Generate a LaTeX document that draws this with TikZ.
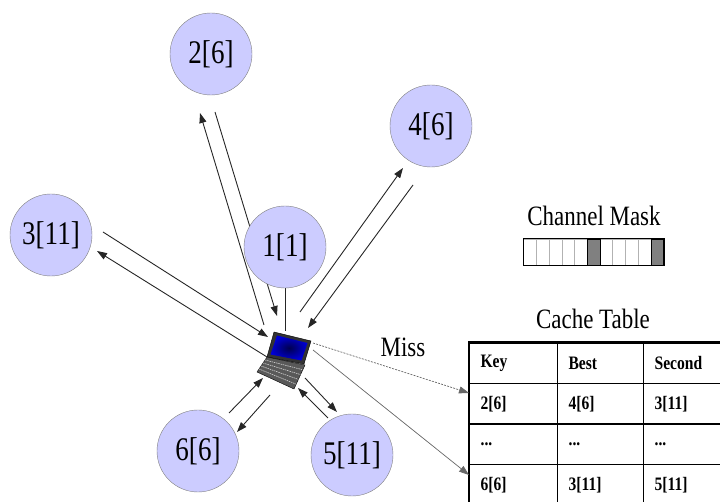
\documentclass[tikz,border=0pt]{standalone}
\usepackage{fontspec}
\setmainfont{Liberation Serif}
\newfontfamily\tallfont[FakeStretch=0.82]{Liberation Serif}
\usetikzlibrary{arrows.meta, calc, backgrounds}
\newcommand\rowdots{...}
\tikzstyle{station} = [circle, draw=gray, fill={rgb,255:red,204;green,204;blue,255}, minimum size=82pt, inner sep=0pt, font=\fontsize{33}{36}\tallfont]
\tikzstyle{caption} = [inner sep=0pt, font=\fontsize{28}{30}\tallfont]
\tikzstyle{link} = [line width=0.9pt, black!85]
\tikzstyle{arrow} = [link, -{Triangle[length=10pt,width=7pt]}]
\tikzstyle{miss} = [line width=0.7pt, gray!80!black, -{Triangle[length=10pt,width=7pt]}]
\tikzstyle{cell} = [draw, line width=1.2pt, anchor=north west, minimum height=40.5pt, inner xsep=11pt, align=left, font=\fontsize{19}{21}\tallfont\bfseries]
\begin{document}
\begin{tikzpicture}[x=1pt, y=1pt]
	\useasboundingbox (0,0) rectangle (720,502);
	\clip (0,0) rectangle (720,502);

	\node (Node1) [station] at (285,255) {1[1]};
	\node (Node2) [station] at (211,448) {2[6]};
	\node (Node3) [station] at (51,267) {3[11]};
	\node (Node4) [station] at (431,376) {4[6]};
	\node (Node5) [station] at (352,47) {5[11]};
	\node (Node6) [station] at (198,51) {6[6]};
	\node (Laptop) [minimum width=56pt, minimum height=58pt] at (285,142) {};

	% laptop: screen, display and keyboard
	\begin{scope}[shift={(Laptop.center)}]
		\draw[fill=black!80] (-11,28) -- (26,19) -- (19,-4) -- (-18,3) -- cycle;
		\shade[inner color={rgb,255:red,0;green,0;blue,80}, outer color={rgb,255:red,0;green,0;blue,215}] (-8,24.5) -- (22.5,17) -- (16.5,-0.5) -- (-14.5,5.5) -- cycle;
		\draw[fill=black!65] (-18,3) -- (20,-5) -- (9,-29) -- (-28,-12) -- cycle;
		\foreach \t in {0.2,0.4,0.6,0.8}
			\draw[gray!35, line width=0.6pt, dash pattern=on 1.5pt off 0.8pt] ($(-18,3)!\t!(-28,-12)$) -- ($(20,-5)!\t!(9,-29)$);
	\end{scope}

	\begin{scope}[on background layer]
		\draw [arrow] ($(Laptop)+(-21,35)$) -- ($(Node2)+(-11,-59)$);
		\draw [arrow] ($(Node2)+(4,-58)$) -- ($(Laptop)+(-8,44)$);
		\draw [arrow] ($(Node3)+(52,3)$) -- ($(Laptop)+(-17,23)$);
		\draw [arrow] ($(Laptop)+(-18,3)$) -- ($(Node3)+(46,-16)$);
		\draw [link] (Node1) -- (Laptop);
		\draw [arrow] ($(Laptop)+(15,48)$) -- ($(Node4)+(-28,-42)$);
		\draw [arrow] ($(Node4)+(-18,-59)$) -- ($(Laptop)+(23,32)$);
		\draw [arrow] ($(Node6)+(31,38)$) -- ($(Laptop)+(-22,-18)$);
		\draw [arrow] ($(Laptop)+(-15,-35)$) -- ($(Node6)+(39,19)$);
		\draw [arrow] ($(Laptop)+(20,-18)$) -- ($(Node5)+(-15,43)$);
		\draw [arrow] ($(Node5)+(-24,37)$) -- ($(Laptop)+(13,-28)$);
	\end{scope}

	% channel mask
	\node (MaskLabel) [caption] at (594,286) {Channel Mask};
	\node (Mask) [minimum width=140pt, minimum height=26pt, inner sep=0pt] at (594,250) {};
	\foreach \i in {0,...,10}
		\draw[gray!60, line width=0.8pt] ($(Mask.south west)+(\i*140/11,0)$) rectangle ++(140/11,26);
	\foreach \i in {5,10}
		\draw[fill=gray, line width=1pt] ($(Mask.south west)+(\i*140/11,0)$) rectangle ++(140/11,26);
	\draw[line width=1.2pt] (Mask.south west) rectangle (Mask.north east);

	% cache table
	\node (CacheLabel) [caption] at (593,183) {Cache Table};
	\foreach \a/\b/\c [count=\r from 0] in {Key/Best/Second, {2[6]}/{4[6]}/{3[11]}, \rowdots/\rowdots/\rowdots, {6[6]}/{3[11]}/{5[11]}} {
		\node (Cell\r-1) [cell, text width=66pt] at (469,159.5-40.5*\r) {\a};
		\node (Cell\r-2) [cell, text width=64pt] at (557,159.5-40.5*\r) {\b};
		\node (Cell\r-3) [cell, text width=64pt] at (643,159.5-40.5*\r) {\c};
	}
	\draw[line width=2.2pt] (Cell0-1.north west) rectangle (Cell3-3.south east);

	\node (MissLabel) [caption] at (403,155) {Miss};
	\draw [miss, dash pattern=on 2pt off 1.2pt] ($(Laptop)+(28,17)$) -- ($(Cell1-1.north west)+(0,-10)$);
	\draw [miss] ($(Laptop)+(28,10)$) -- ($(Cell3-1.north west)+(0,-11)$);
\end{tikzpicture}
\end{document}
